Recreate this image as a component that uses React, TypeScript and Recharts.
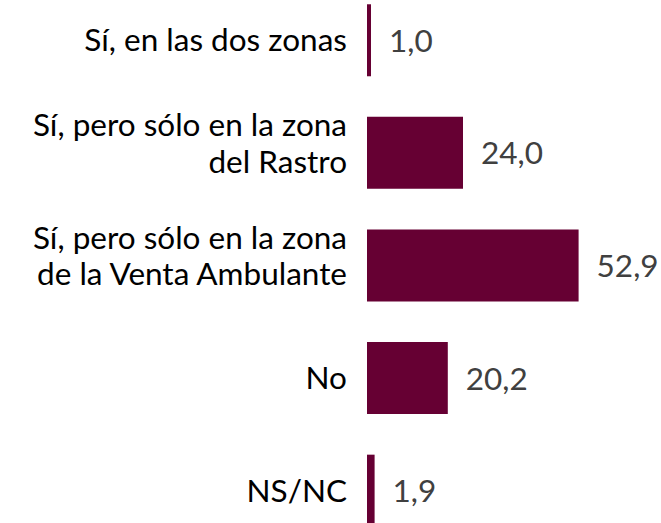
import { BarChart, Bar, XAxis, YAxis, LabelList } from "recharts";

const categories = [
  "Sí, en las dos zonas",
  "Sí, pero sólo en la zona|del Rastro",
  "Sí, pero sólo en la zona|de la Venta Ambulante",
  "No",
  "NS/NC",
];
const values = [1.0, 24.0, 52.9, 20.2, 1.9];

const data = categories.map((name, i) => ({ name, value: values[i] }));

const FONT = "Lato, 'Open Sans', sans-serif";
const SIZE = 31.5;

// category labels, right aligned, split on "|"
const CategoryTick = (props: any) => {
  const { x, y, payload } = props;
  const lines = String(payload.value).split("|");
  const base = lines.length === 1 ? [11] : [-17, 19.7];
  return (
    <text x={x} y={y} textAnchor="end" fill="#000000" fontSize={SIZE} fontFamily={FONT}>
      {lines.map((l, i) => (
        <tspan key={i} x={x} y={y + base[i]}>
          {l}
        </tspan>
      ))}
    </text>
  );
};

const ValueLabel = (props: any) => {
  const { x, y, width, height, value } = props;
  return (
    <text
      x={x + width + 18}
      y={y + height / 2 + 11.5}
      fill="#404040"
      fontSize={SIZE}
      fontFamily={FONT}
    >
      {Number(value).toFixed(1).replace(".", ",")}
    </text>
  );
};

const App = () => {
  return (
    <div
      style={{
        position: "absolute",
        left: 0,
        top: 0,
        width: 661,
        height: 523,
        overflow: "hidden",
        background: "#ffffff",
      }}
    >
      <div style={{ position: "absolute", left: 0, top: -16 }}>
        <BarChart
          width={661}
          height={563}
          data={data}
          layout="vertical"
          margin={{ top: 0, right: 54, bottom: 0, left: 0 }}
          barCategoryGap="18%"
        >
          <XAxis type="number" domain={[0, 60]} hide />
          <YAxis
            type="category"
            dataKey="name"
            width={367}
            axisLine={false}
            tickLine={false}
            tickMargin={14}
            tick={<CategoryTick />}
            interval={0}
          />
          <Bar dataKey="value" fill="#660033" isAnimationActive={false}>
            <LabelList dataKey="value" content={<ValueLabel />} />
          </Bar>
        </BarChart>
      </div>
    </div>
  );
};

export default App;
